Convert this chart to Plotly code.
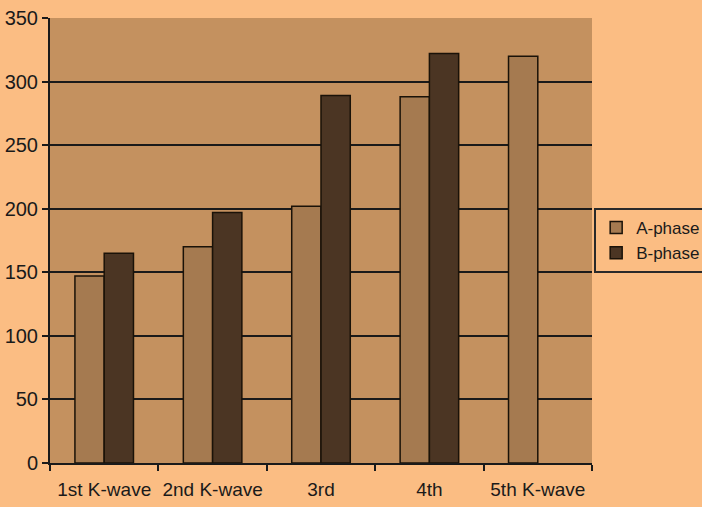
import plotly.graph_objects as go

categories = ["1st K-wave", "2nd K-wave", "3rd", "4th", "5th K-wave"]
a_phase = [147, 170, 202, 288, 320]
b_phase = [165, 197, 289, 322, None]
y_ticks = [0, 50, 100, 150, 200, 250, 300, 350]

fig = go.Figure()
fig.add_trace(go.Bar(name="A-phase", x=categories, y=a_phase,
                     marker=dict(color="#A57A50", line=dict(color="#1a1208", width=1.5))))
fig.add_trace(go.Bar(name="B-phase", x=categories, y=b_phase,
                     marker=dict(color="#4B3523", line=dict(color="#1a1208", width=1.5))))

font = dict(family="Liberation Sans, Arial, sans-serif", size=20, color="#1a1a1a")
xfont = dict(family="Liberation Sans, Arial, sans-serif", size=19, color="#1a1a1a")
fig.update_layout(
    width=702, height=507,
    margin=dict(l=50, r=110, t=18, b=44, pad=0, autoexpand=False),
    paper_bgcolor="#FBBD83",
    plot_bgcolor="#C4915F",
    barmode="group", bargap=0.46, bargroupgap=0,
    font=font,
    legend=dict(x=1.004, xanchor="left", y=0.5, yanchor="middle",
                bgcolor="#FBBD83", bordercolor="#2a2a2a", borderwidth=2,
                font=dict(family="Liberation Sans, Arial, sans-serif", size=17, color="#1a1a1a"),
                itemwidth=30, tracegroupgap=0),
    xaxis=dict(showline=True, linecolor="#1a1a1a", linewidth=2, automargin=False,
               ticks="outside", tickson="boundaries", ticklen=6, tickcolor="#1a1a1a",
               tickwidth=2, showgrid=False, tickfont=xfont, tickangle=0,
               ticklabelstandoff=8),
    yaxis=dict(range=[0, 350], tickvals=y_ticks, showline=True, linecolor="#1a1a1a",
               linewidth=2, ticks="outside", ticklen=6, tickcolor="#1a1a1a", tickwidth=2,
               showgrid=True, gridcolor="#1a1a1a", gridwidth=2, zeroline=False,
               tickfont=font, automargin=False),
)
fig.write_html("out.html", config={"displayModeBar": False},
               post_script="document.body.style.margin='0';document.body.style.padding='0';"
                           "document.documentElement.style.overflow='hidden';")
